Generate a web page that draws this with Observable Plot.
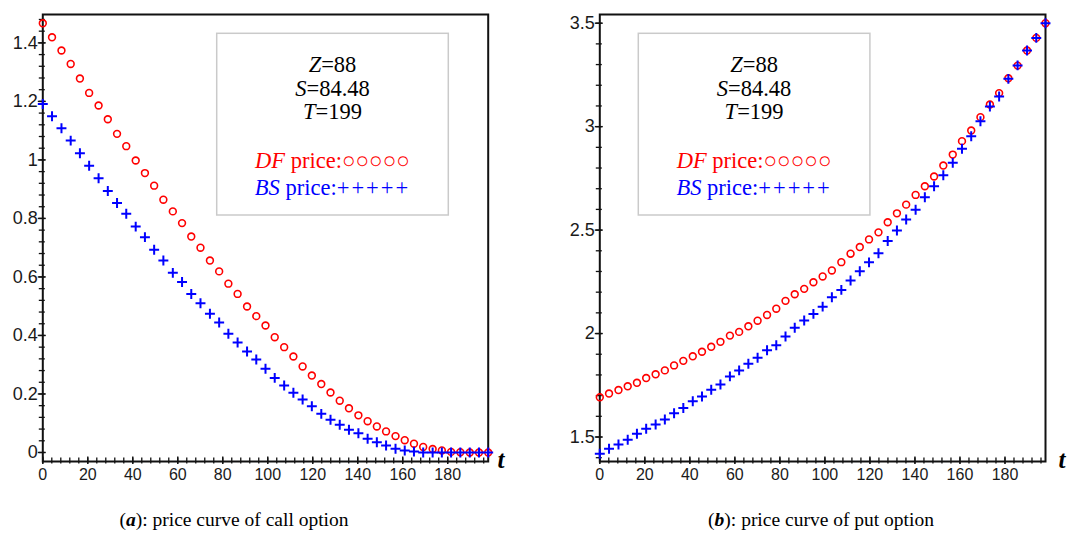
<!DOCTYPE html>
<html><head><meta charset="utf-8">
<script src="https://cdn.jsdelivr.net/npm/d3@7"></script>
<script src="https://cdn.jsdelivr.net/npm/@observablehq/plot@0.6"></script>
<style>
body{margin:0;background:#fff;}
#wrap{position:relative;width:1068px;height:536px;overflow:hidden;background:#fff;}
.panel{position:absolute;top:0;}
.cap{position:absolute;top:508px;font-family:"Liberation Serif","Times New Roman",serif;font-size:19.5px;line-height:24px;color:#000;white-space:nowrap;transform:translateX(-50%);}
</style></head><body><div id="wrap"></div>
<script>
// time points t
const t = [0, 4.1, 8.3, 12.4, 16.5, 20.6, 24.8, 28.9, 33, 37.1, 41.3, 45.4, 49.5, 53.6, 57.8, 61.9, 66, 70.1, 74.3, 78.4, 82.5, 86.6, 90.8, 94.9, 99, 103.1, 107.3, 111.4, 115.5, 119.6, 123.8, 127.9, 132, 136.1, 140.3, 144.4, 148.5, 152.6, 156.8, 160.9, 165, 169.1, 173.3, 177.4, 181.5, 185.6, 189.8, 193.9, 198];
// (a) call option prices
const callDF = [1.467, 1.419, 1.374, 1.328, 1.278, 1.229, 1.186, 1.139, 1.089, 1.047, 0.998, 0.955, 0.912, 0.864, 0.824, 0.784, 0.738, 0.700, 0.656, 0.619, 0.577, 0.542, 0.499, 0.466, 0.434, 0.394, 0.360, 0.328, 0.294, 0.263, 0.234, 0.205, 0.177, 0.151, 0.127, 0.107, 0.089, 0.072, 0.056, 0.042, 0.030, 0.019, 0.012, 0.007, 0.002, 0.001, 0, 0, 0];
const callBS = [1.191, 1.149, 1.108, 1.066, 1.023, 0.980, 0.937, 0.894, 0.853, 0.816, 0.772, 0.736, 0.693, 0.656, 0.614, 0.583, 0.542, 0.510, 0.474, 0.444, 0.406, 0.376, 0.345, 0.318, 0.286, 0.255, 0.229, 0.204, 0.181, 0.158, 0.132, 0.112, 0.095, 0.078, 0.066, 0.047, 0.035, 0.024, 0.013, 0.007, 0.003, 0, 0, 0, 0, 0, 0, 0, 0];
// (b) put option prices
const putDF = [1.692, 1.710, 1.727, 1.745, 1.762, 1.785, 1.803, 1.822, 1.846, 1.868, 1.890, 1.912, 1.936, 1.960, 1.990, 2.008, 2.035, 2.062, 2.090, 2.120, 2.158, 2.190, 2.216, 2.248, 2.276, 2.305, 2.345, 2.386, 2.418, 2.455, 2.489, 2.538, 2.581, 2.623, 2.670, 2.712, 2.759, 2.812, 2.865, 2.930, 2.981, 3.046, 3.107, 3.162, 3.234, 3.295, 3.368, 3.429, 3.500];
const putBS = [1.419, 1.443, 1.464, 1.487, 1.516, 1.540, 1.560, 1.585, 1.615, 1.640, 1.673, 1.696, 1.728, 1.754, 1.793, 1.822, 1.854, 1.883, 1.919, 1.943, 1.986, 2.028, 2.063, 2.095, 2.130, 2.175, 2.211, 2.256, 2.301, 2.344, 2.388, 2.447, 2.498, 2.551, 2.598, 2.659, 2.712, 2.765, 2.825, 2.893, 2.954, 3.026, 3.097, 3.146, 3.231, 3.296, 3.368, 3.429, 3.500];
// ticks
const xTicks = [0, 20, 40, 60, 80, 100, 120, 140, 160, 180];
const callYTicks = [0, 0.2, 0.4, 0.6, 0.8, 1, 1.2, 1.4];
const putYTicks = [1.5, 2, 2.5, 3, 3.5];
// legend text
const paramNames = ["Z", "S", "T"];
const paramValues = ["=88", "=84.48", "=199"];
const seriesNames = ["DF", "BS"];
const seriesColors = ["#ff0000", "#0000ff"];
const seriesGlyphs = ["○○○○○", "+++++"];
const axisName = "t";
const captionLetters = ["a", "b"];
const captionTexts = ["): price curve of call option", "): price curve of put option"];

const xMinor = d3.range(0, 199, 4);
const H = 490, mT = 14, mB = 29, PW = 534;

function panel({yDomain, yTicks, yMinor, df, bs, mL, mR, legendX, tX}) {
  const ph = H - mT - mB;
  const pw = PW - mL - mR;
  const dDF = t.map((x, i) => ({t: x, v: df[i]}));
  const dBS = t.map((x, i) => ({t: x, v: bs[i]}));
  const ink = "#111";
  const svg = Plot.plot({
    width: PW, height: H, marginLeft: mL, marginRight: mR, marginTop: mT, marginBottom: mB,
    style: {fontFamily: "'Liberation Sans', Arial, sans-serif", fontSize: "16px", color: "#1a1a1a", background: "transparent", overflow: "visible"},
    x: {domain: [0, 198]},
    y: {domain: yDomain},
    marks: [
      Plot.axisX(xTicks, {tickSize: 0, tickPadding: 7, fontSize: 16, label: null, tickFormat: d => String(d)}),
      Plot.axisY(yTicks, {tickSize: 0, tickPadding: 5, fontSize: 18, label: null, tickFormat: d => String(d)}),
      Plot.tickX(xMinor, {x: d => d, insetTop: ph - 3.5, insetBottom: -2.5, stroke: ink, strokeWidth: 1.3}),
      Plot.tickX(xTicks, {x: d => d, insetTop: ph - 4.5, insetBottom: -3, stroke: ink, strokeWidth: 1.4}),
      Plot.tickY(yMinor, {y: d => d, insetLeft: -3.5, insetRight: pw - 2.5, stroke: ink, strokeWidth: 1.3}),
      Plot.tickY(yTicks, {y: d => d, insetLeft: -4.5, insetRight: pw - 3.5, stroke: ink, strokeWidth: 1.4}),
      Plot.frame({stroke: ink, strokeWidth: 2}),
      Plot.dot(dDF, {x: "t", y: "v", r: 3.4, stroke: "#ff0000", strokeWidth: 1.6, fill: "none"}),
      Plot.dot(dBS, {x: "t", y: "v", symbol: "plus", r: 3.3, stroke: "#0000ff", strokeWidth: 2, fill: "none"})
    ]
  });
  const g = d3.select(svg).append("g").attr("font-family", "'Liberation Serif','Times New Roman',serif").attr("font-size", 22.5);
  const bx = legendX, by = 33.3, bw = 231.6, bh = 181.7, cx = bx + bw / 2;
  g.append("rect").attr("x", bx).attr("y", by).attr("width", bw).attr("height", bh)
    .attr("fill", "#fff").attr("stroke", "#cacaca").attr("stroke-width", 1.5);
  const lineY = [39, 62.7, 85.7];
  paramNames.forEach((p, i) => {
    const tx = g.append("text").attr("x", cx).attr("y", by + lineY[i]).attr("text-anchor", "middle").attr("fill", "#000");
    tx.append("tspan").attr("font-style", "italic").text(p);
    tx.append("tspan").text(paramValues[i]);
  });
  const sY = [135, 161.7];
  seriesNames.forEach((s, i) => {
    const tx = g.append("text").attr("x", cx).attr("y", by + sY[i]).attr("text-anchor", "middle").attr("fill", seriesColors[i]);
    tx.append("tspan").attr("font-style", "italic").text(s);
    tx.append("tspan").text(" price:");
    tx.append("tspan").attr("letter-spacing", i === 0 ? 0 : 2).text(seriesGlyphs[i]);
  });
  d3.select(svg).append("text").attr("x", tX).attr("y", 468)
    .attr("font-family", "'Liberation Serif','Times New Roman',serif").attr("font-size", 25)
    .attr("font-weight", "bold").attr("font-style", "italic").attr("fill", "#000").text(axisName);
  return svg;
}

const wrap = document.getElementById("wrap");
const left = panel({yDomain: [-0.0308, 1.497], yTicks: callYTicks, yMinor: d3.range(0, 1.49, 0.04),
  df: callDF, bs: callBS, mL: 42.3, mR: 46.3, legendX: 216.7, tX: 501});
const right = panel({yDomain: [1.3816, 3.542], yTicks: putYTicks, yMinor: d3.range(1.4, 3.55, 0.1),
  df: putDF, bs: putBS, mL: 65.3, mR: 23, legendX: 104.3, tX: 528});
const d1 = document.createElement("div"); d1.className = "panel"; d1.style.left = "0px"; d1.appendChild(left);
const d2 = document.createElement("div"); d2.className = "panel"; d2.style.left = "534px"; d2.appendChild(right);
wrap.appendChild(d1); wrap.appendChild(d2);
[234, 821].forEach((c, i) => {
  const cap = document.createElement("div");
  cap.className = "cap"; cap.style.left = c + "px";
  cap.innerHTML = "(<b><i>" + captionLetters[i] + "</i></b>" + captionTexts[i];
  wrap.appendChild(cap);
});
</script></body></html>
